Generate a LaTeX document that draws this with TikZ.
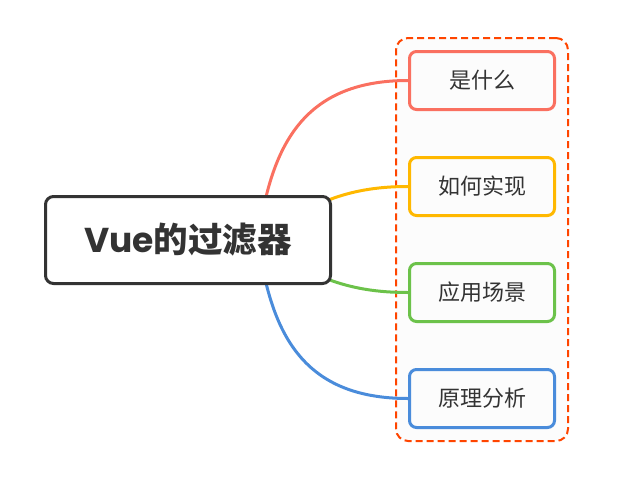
\documentclass[tikz,border=0pt]{standalone}
\usepackage{fontspec}
\setmainfont{Noto Sans CJK SC}
\newfontfamily\latinfont{Poppins}
\usepackage{tikz}
\usetikzlibrary{positioning, calc, backgrounds, fit}
\definecolor{inkgray}{RGB}{51,51,51}
\definecolor{topicred}{RGB}{250,112,96}
\definecolor{topicorange}{RGB}{255,184,0}
\definecolor{topicgreen}{RGB}{108,194,74}
\definecolor{topicblue}{RGB}{74,140,219}
\definecolor{groupred}{RGB}{255,69,0}
\definecolor{groupfill}{RGB}{252,252,252}

\begin{document}
\begin{tikzpicture}[
        x=1pt, y=1pt,
        node distance=45pt,
        central/.style={rectangle, draw=inkgray, fill=white, line width=3pt, minimum width=285pt, minimum height=87pt, rounded corners=8pt, text=inkgray, font=\fontsize{34.5}{40}\selectfont\bfseries},
        topic/.style={rectangle, draw=#1, fill=groupfill, line width=3pt, minimum width=145pt, minimum height=58pt, rounded corners=7pt, text=inkgray, font=\fontsize{22}{26}\selectfont},
        branch/.style={draw=#1, line width=3pt}
    ]
        \useasboundingbox (0,0) rectangle (644,-479);
        \node[central] (V) at (188,-240) {{\latinfont\bfseries Vue}的过滤器};
        \coordinate (hub) at (258,-240);

        \node[topic=topicred] (T1) at (482,-80.5) {是什么};
        \node[topic=topicorange, below=of T1] (T2) {如何实现};
        \node[topic=topicgreen, below=of T2] (T3) {应用场景};
        \node[topic=topicblue, below=of T3] (T4) {原理分析};

        \begin{scope}[on background layer]
            \node[fit=(T1)(T4), inner sep=12pt, draw=groupred, fill=groupfill, line width=2pt, dash pattern=on 7pt off 4pt, rounded corners=12pt] (G) {};
            \draw[branch=topicred] (hub) to[out=82, in=180, out distance=91pt, in distance=108pt] (T1.west);
            \draw[branch=topicorange] (hub) to[out=35, in=180] (T2.west);
            \draw[branch=topicgreen] (hub) to[out=-35, in=180] (T3.west);
            \draw[branch=topicblue] (hub) to[out=-82, in=180, out distance=91pt, in distance=108pt] (T4.west);
        \end{scope}
    \end{tikzpicture}
\end{document}
